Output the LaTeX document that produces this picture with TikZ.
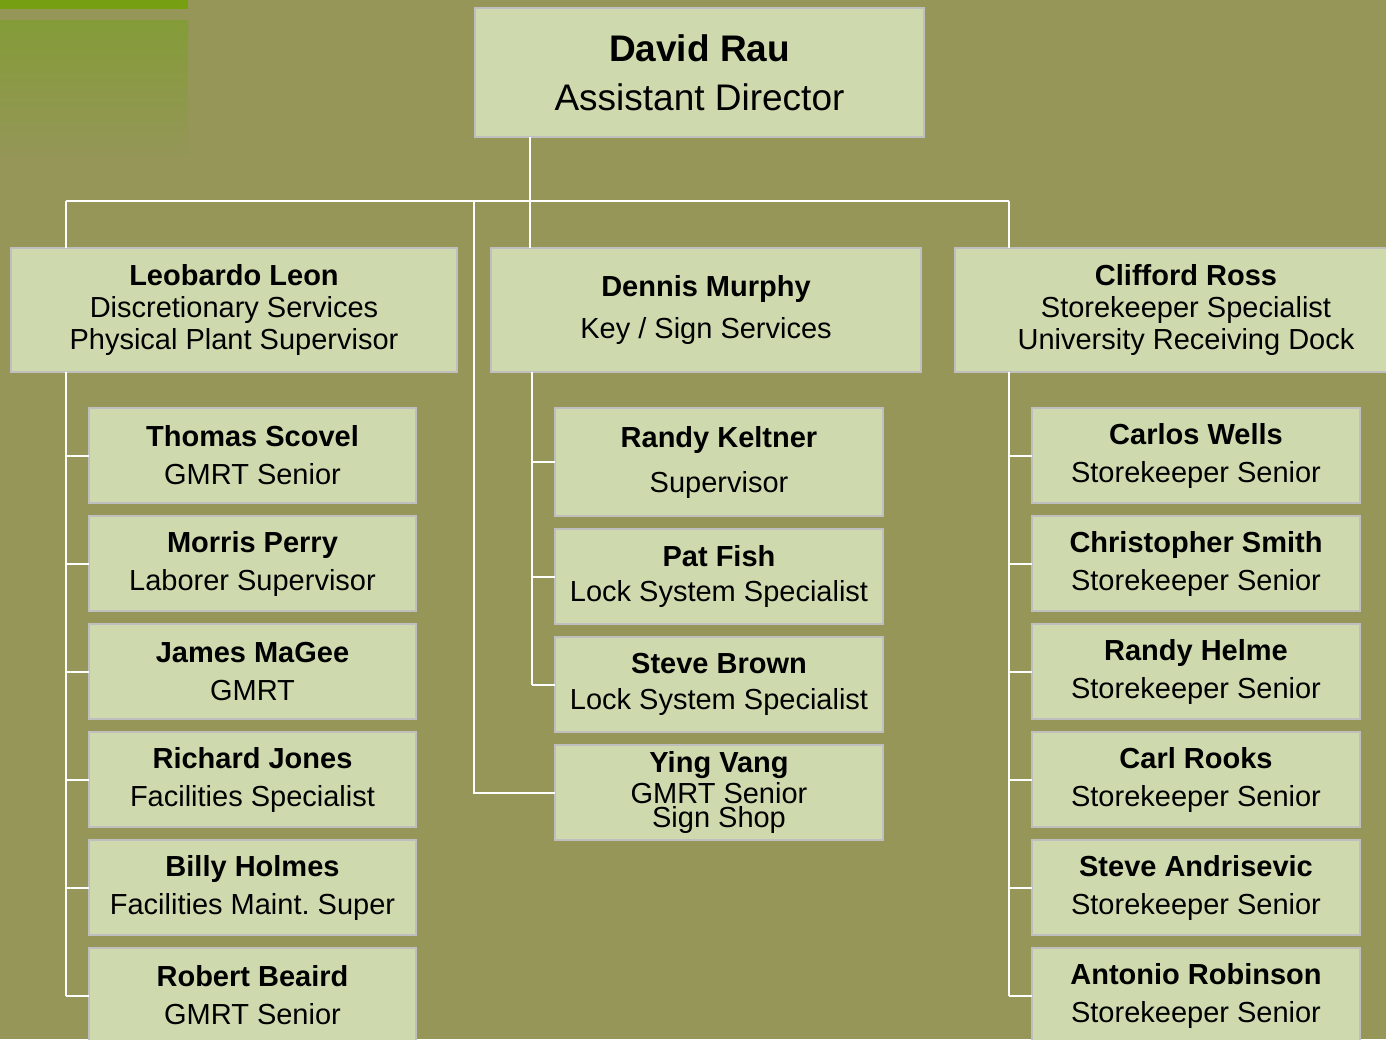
\documentclass[tikz,border=0pt]{standalone}
\usepackage{fontspec}
\setmainfont{Liberation Sans}
\usetikzlibrary{positioning}
\frenchspacing

\definecolor{chartbg}{RGB}{149,150,88}
\definecolor{boxfill}{RGB}{206,218,174}
\definecolor{boxline}{RGB}{191,191,191}
\definecolor{topbar}{RGB}{118,160,18}
\definecolor{topfade}{RGB}{132,156,56}

\begin{document}
\begin{tikzpicture}[x=1pt,y=-1pt,
  staff/.style={draw=boxline,line width=2pt,fill=boxfill,inner sep=0pt,outer sep=0pt,
    align=center,anchor=north west,font=\fontsize{29}{38}\selectfont},
  lead/.style={staff,minimum width=446,minimum height=124,font=\fontsize{29}{32}\selectfont},
  sidebox/.style={staff,minimum width=327,minimum height=95},
  link/.style={draw=white,line width=2pt}]
\useasboundingbox (0,0) rectangle (1386,1039);
\clip (0,0) rectangle (1386,1039);
\fill[chartbg] (0,0) rectangle (1386,1039);
\fill[topbar] (0,0) rectangle (188,9);
\shade[top color=topfade,bottom color=chartbg] (0,20) rectangle (188,160);

% head
\node[staff,minimum width=449,minimum height=129,font=\fontsize{37}{49}\selectfont] (rau) at (475,8)
  {\textbf{David Rau}\\Assistant Director};

% second row
\node[lead] (leon) at (11,248)
  {\textbf{Leobardo Leon}\\Discretionary Services\\Physical Plant Supervisor};
\node[lead,minimum width=430,font=\fontsize{29}{42}\selectfont] (murphy) at (491,248)
  {\textbf{Dennis Murphy}\\Key / Sign Services};
\node[lead,minimum width=462] (ross) at (955,248)
  {\textbf{Clifford Ross}\\Storekeeper Specialist\\University Receiving Dock};

% left column
\node[sidebox] (scovel) at (89,408) {\textbf{Thomas Scovel}\\GMRT Senior};
\node[sidebox,below=13pt of scovel] (perry) {\textbf{Morris Perry}\\Laborer Supervisor};
\node[sidebox,below=13pt of perry] (magee) {\textbf{James MaGee}\\GMRT};
\node[sidebox,below=13pt of magee] (jones) {\textbf{Richard Jones}\\Facilities Specialist};
\node[sidebox,below=13pt of jones] (holmes) {\textbf{Billy Holmes}\\Facilities Maint. Super};
\node[sidebox,below=13pt of holmes] (beaird) {\textbf{Robert Beaird}\\GMRT Senior};

% middle column
\node[sidebox,minimum width=328,minimum height=108,font=\fontsize{29}{45}\selectfont] (keltner) at (555,408)
  {\textbf{Randy Keltner}\\Supervisor};
\node[sidebox,minimum width=328,below=13pt of keltner,font=\fontsize{29}{35}\selectfont] (fish)
  {\textbf{Pat Fish}\\Lock System Specialist};
\node[sidebox,minimum width=328,below=13pt of fish,font=\fontsize{29}{36}\selectfont] (brown)
  {\textbf{Steve Brown}\\Lock System Specialist};
\node[sidebox,minimum width=328,below=13pt of brown,font=\fontsize{29}{31}\selectfont] (vang)
  {\textbf{Ying Vang}\\GMRT Senior\\[-7pt]Sign Shop};

% right column
\node[sidebox,minimum width=328] (wells) at (1032,408) {\textbf{Carlos Wells}\\Storekeeper Senior};
\node[sidebox,minimum width=328,below=13pt of wells] (smith) {\textbf{Christopher Smith}\\Storekeeper Senior};
\node[sidebox,minimum width=328,below=13pt of smith] (helme) {\textbf{Randy Helme}\\Storekeeper Senior};
\node[sidebox,minimum width=328,below=13pt of helme] (rooks) {\textbf{Carl Rooks}\\Storekeeper Senior};
\node[sidebox,minimum width=328,below=13pt of rooks] (andrisevic) {\textbf{Steve Andrisevic}\\Storekeeper Senior};
\node[sidebox,minimum width=328,below=13pt of andrisevic] (robinson) {\textbf{Antonio Robinson}\\Storekeeper Senior};

% connectors
\coordinate (trunk) at (530,201);
\coordinate (busL) at (66,201);
\coordinate (busM) at (474,201);
\coordinate (busR) at (1009,201);
\coordinate (spineM) at (532,372);
\draw[link] (rau.south -| trunk) -- (trunk) -- (trunk |- murphy.north);
\draw[link] (busL) -- (busR);
\draw[link] (busL) -- (busL |- leon.north);
\draw[link] (busR) -- (busR |- ross.north);
\draw[link] (busM) |- (vang.west);
\draw[link] (busL |- leon.south) -- (busL |- beaird.west);
\foreach \n in {scovel,perry,magee,jones,holmes,beaird}
  \draw[link] (busL |- \n.west) -- (\n.west);
\draw[link] (spineM) -- (spineM |- brown.west);
\foreach \n in {keltner,fish,brown}
  \draw[link] (spineM |- \n.west) -- (\n.west);
\draw[link] (busR |- ross.south) -- (busR |- robinson.west);
\foreach \n in {wells,smith,helme,rooks,andrisevic,robinson}
  \draw[link] (busR |- \n.west) -- (\n.west);
\end{tikzpicture}
\end{document}
